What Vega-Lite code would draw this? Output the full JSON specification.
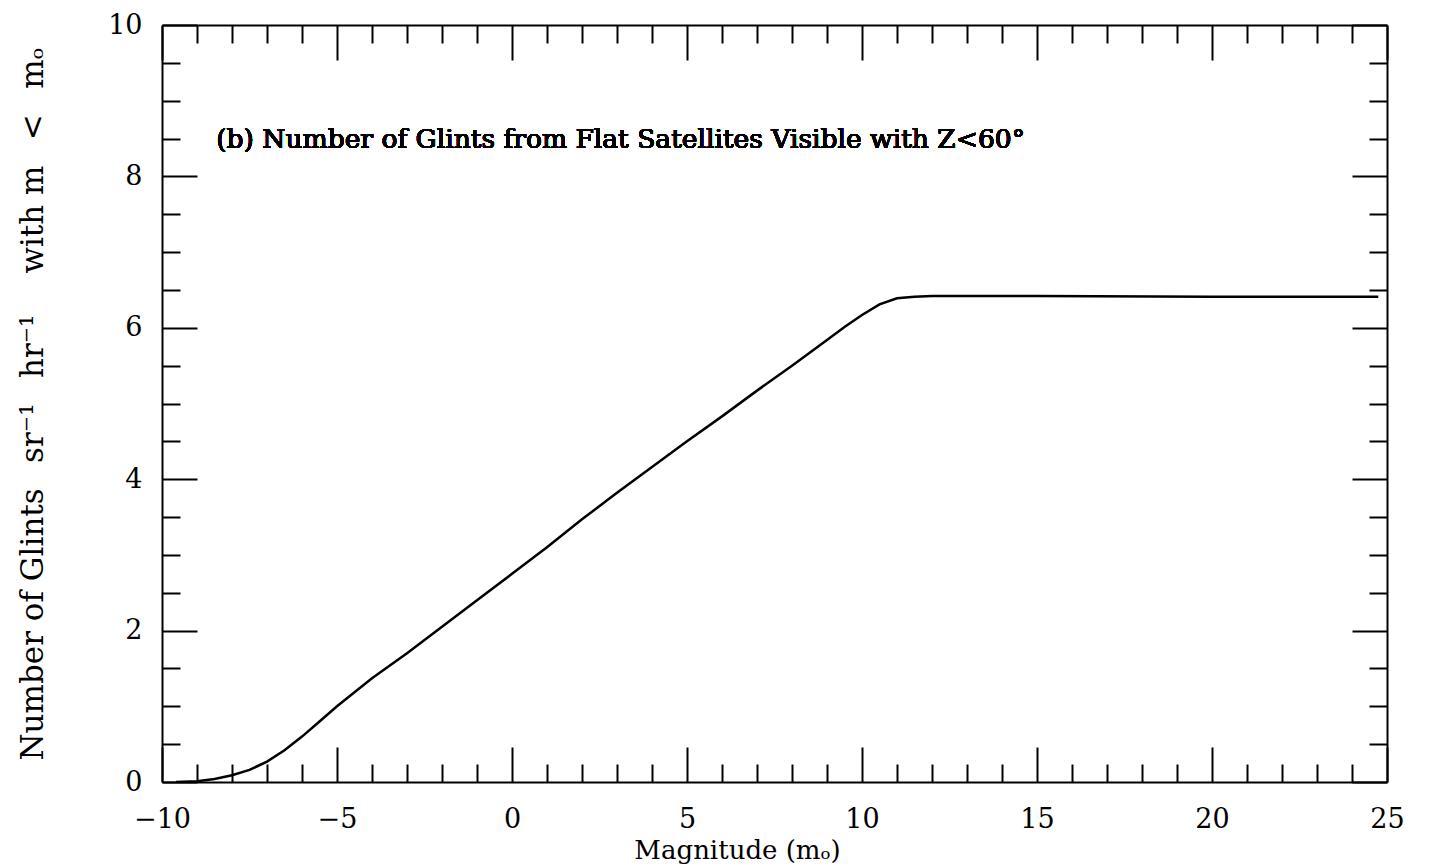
{
  "$schema": "https://vega.github.io/schema/vega-lite/v6.json",
  "width": 1225,
  "height": 757,
  "autosize": {"type": "none"},
  "padding": {"left": 162, "top": 25, "right": 44, "bottom": 85},
  "background": "white",
  "config": {
    "view": {"stroke": null},
    "font": "DejaVu Serif",
    "axis": {
      "grid": false,
      "domainColor": "black",
      "domainWidth": 2,
      "tickColor": "black",
      "tickWidth": 2,
      "labelColor": "black",
      "titleColor": "black",
      "labelFont": "DejaVu Serif",
      "titleFont": "DejaVu Serif",
      "labelFontSize": 27,
      "titleFontSize": 26,
      "titleFontWeight": "normal"
    }
  },
  "data": {
    "values": [
      {"m": -9.6, "n": 0.0},
      {"m": -9.0, "n": 0.01},
      {"m": -8.5, "n": 0.04},
      {"m": -8.0, "n": 0.09},
      {"m": -7.5, "n": 0.16},
      {"m": -7.0, "n": 0.27},
      {"m": -6.5, "n": 0.42},
      {"m": -6.0, "n": 0.6},
      {"m": -5.5, "n": 0.8},
      {"m": -5.0, "n": 1.0},
      {"m": -4.0, "n": 1.37},
      {"m": -3.0, "n": 1.7},
      {"m": -2.0, "n": 2.05},
      {"m": -1.0, "n": 2.4},
      {"m": 0.0, "n": 2.75},
      {"m": 1.0, "n": 3.1},
      {"m": 2.0, "n": 3.47},
      {"m": 3.0, "n": 3.82},
      {"m": 4.0, "n": 4.16},
      {"m": 5.0, "n": 4.5},
      {"m": 6.0, "n": 4.83},
      {"m": 7.0, "n": 5.17},
      {"m": 8.0, "n": 5.5},
      {"m": 9.0, "n": 5.84},
      {"m": 9.5, "n": 6.01},
      {"m": 10.0, "n": 6.17},
      {"m": 10.5, "n": 6.31},
      {"m": 11.0, "n": 6.39},
      {"m": 11.5, "n": 6.41},
      {"m": 12.0, "n": 6.42},
      {"m": 15.0, "n": 6.42},
      {"m": 20.0, "n": 6.41},
      {"m": 24.75, "n": 6.41}
    ]
  },
  "resolve": {"axis": {"x": "independent", "y": "independent"}},
  "layer": [
    {
      "mark": {"type": "line", "color": "black", "strokeWidth": 2.5, "clip": true},
      "encoding": {
        "x": {
          "field": "m", "type": "quantitative",
          "scale": {"domain": [-10, 25], "nice": false, "zero": false},
          "axis": {
            "orient": "bottom",
            "values": [-10,-9,-8,-7,-6,-5,-4,-3,-2,-1,0,1,2,3,4,5,6,7,8,9,10,11,12,13,14,15,16,17,18,19,20,21,22,23,24,25],
            "tickSize": {"condition": {"test": "datum.value % 5 === 0", "value": -35}, "value": -18},
            "labelExpr": "datum.value % 5 === 0 ? (datum.value < 0 ? '−' + abs(datum.value) : datum.label) : ''",
            "labelPadding": 59,
            "labelFlush": false,
            "labelOverlap": false,
            "title": "Magnitude (mₒ)",
            "titleX": 575,
            "titlePadding": -12
          }
        },
        "y": {
          "field": "n", "type": "quantitative",
          "scale": {"domain": [0, 10], "nice": false, "zero": false},
          "axis": {
            "orient": "left",
            "values": [0,0.5,1,1.5,2,2.5,3,3.5,4,4.5,5,5.5,6,6.5,7,7.5,8,8.5,9,9.5,10],
            "tickSize": {"condition": {"test": "datum.value % 2 === 0", "value": -35}, "value": -18},
            "labelExpr": "datum.value % 2 === 0 ? format(datum.value, 'd') : ''",
            "labelPadding": 55,
            "labelFlush": false,
            "labelOverlap": false,
            "title": "Number of Glints \u2002sr⁻¹ \u2002hr⁻¹ \u2002\u2002with m \u2002< \u2002mₒ",
            "titleFontSize": 31,
            "titlePadding": 58
          }
        }
      }
    },
    {
      "mark": {"type": "line", "color": "black", "strokeOpacity": 0},
      "encoding": {
        "x": {
          "field": "m", "type": "quantitative",
          "axis": {
            "orient": "top",
            "values": [-10,-9,-8,-7,-6,-5,-4,-3,-2,-1,0,1,2,3,4,5,6,7,8,9,10,11,12,13,14,15,16,17,18,19,20,21,22,23,24,25],
            "tickSize": {"condition": {"test": "datum.value % 5 === 0", "value": -35}, "value": -18},
            "labels": false,
            "title": null
          }
        },
        "y": {
          "field": "n", "type": "quantitative",
          "axis": {
            "orient": "right",
            "values": [0,0.5,1,1.5,2,2.5,3,3.5,4,4.5,5,5.5,6,6.5,7,7.5,8,8.5,9,9.5,10],
            "tickSize": {"condition": {"test": "datum.value % 2 === 0", "value": -35}, "value": -18},
            "labels": false,
            "title": null
          }
        }
      }
    },
    {
      "mark": {"type": "text", "align": "left", "baseline": "middle", "fontSize": 26.5, "font": "DejaVu Serif", "color": "black"},
      "encoding": {
        "x": {"datum": -8.45, "type": "quantitative", "axis": null},
        "y": {"datum": 8.48, "type": "quantitative", "axis": null},
        "text": {"value": "(b) Number of Glints from Flat Satellites Visible with Z<60°"}
      }
    }
  ]
}
